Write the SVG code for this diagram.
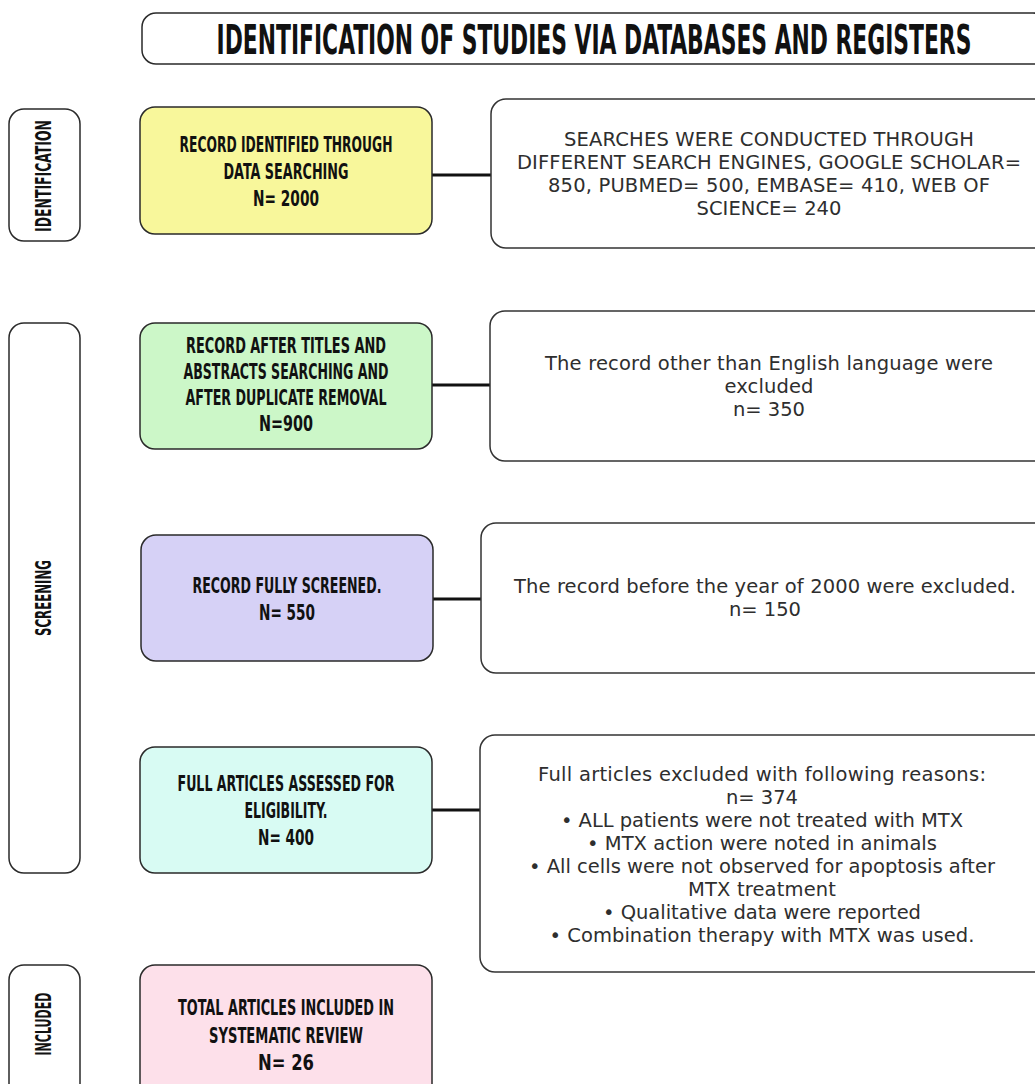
<svg xmlns="http://www.w3.org/2000/svg" width="1035" height="1084" viewBox="0 0 1035 1084">
<style>
.box{stroke:#2a2a2a;stroke-width:1.5}
.side{fill:#fff;stroke:#2a2a2a;stroke-width:1.5}
.rbox{fill:#fff;stroke:#333;stroke-width:1.5}
.hand{font-family:"DejaVu Sans Condensed","DejaVu Sans",sans-serif;font-weight:bold;fill:#111;text-anchor:middle}
.nt{font-size:22px}
.rt{font-family:"DejaVu Sans",sans-serif;font-size:19.5px;fill:#2e2e2e;text-anchor:middle}
.conn{stroke:#111;stroke-width:3}
</style>
<rect width="1035" height="1084" fill="#fff"/>
<g id="title">
<rect x="142" y="13" width="905" height="51" rx="14" class="side"/>
<text transform="translate(594 54) scale(0.6 1)" class="hand" font-size="40" textLength="1258" lengthAdjust="spacingAndGlyphs">IDENTIFICATION OF STUDIES VIA DATABASES AND REGISTERS</text>
</g>
<g id="stage-identification">
<rect x="9" y="109" width="71" height="132" rx="15" class="side"/>
<text transform="translate(51 176) rotate(-90)" class="hand" font-size="22" textLength="112" lengthAdjust="spacingAndGlyphs">IDENTIFICATION</text>
</g>
<g id="stage-screening">
<rect x="9" y="323" width="71" height="550" rx="15" class="side"/>
<text transform="translate(51 598) rotate(-90)" class="hand" font-size="22" textLength="76" lengthAdjust="spacingAndGlyphs">SCREENING</text>
</g>
<g id="stage-included">
<rect x="9" y="965" width="71" height="140" rx="15" class="side"/>
<text transform="translate(51 1024) rotate(-90)" class="hand" font-size="22" textLength="63" lengthAdjust="spacingAndGlyphs">INCLUDED</text>
</g>
<g id="connectors">
<line x1="432" y1="175" x2="491" y2="175" class="conn"/>
<line x1="432" y1="385" x2="490" y2="385" class="conn"/>
<line x1="433" y1="599" x2="481" y2="599" class="conn"/>
<line x1="432" y1="810" x2="480" y2="810" class="conn"/>
</g>
<g id="node-identified">
<rect x="140" y="107" width="292" height="127" rx="15" class="box" fill="#f8f79b"/>
<text class="hand nt" x="286" y="152" textLength="213" lengthAdjust="spacingAndGlyphs">RECORD IDENTIFIED THROUGH</text>
<text class="hand nt" x="286" y="179" textLength="125" lengthAdjust="spacingAndGlyphs">DATA SEARCHING</text>
<text class="hand nt" x="286" y="206" textLength="66" lengthAdjust="spacingAndGlyphs">N= 2000</text>
</g>
<g id="node-after-titles">
<rect x="140" y="323" width="292" height="126" rx="15" class="box" fill="#ccf7c8"/>
<text class="hand nt" x="286" y="353" textLength="200" lengthAdjust="spacingAndGlyphs">RECORD AFTER TITLES AND</text>
<text class="hand nt" x="286" y="379" textLength="205" lengthAdjust="spacingAndGlyphs">ABSTRACTS SEARCHING AND</text>
<text class="hand nt" x="286" y="405" textLength="201" lengthAdjust="spacingAndGlyphs">AFTER DUPLICATE REMOVAL</text>
<text class="hand nt" x="286" y="431" textLength="54" lengthAdjust="spacingAndGlyphs">N=900</text>
</g>
<g id="node-screened">
<rect x="141" y="535" width="292" height="126" rx="15" class="box" fill="#d6d1f6"/>
<text class="hand nt" x="287" y="593" textLength="189" lengthAdjust="spacingAndGlyphs">RECORD FULLY SCREENED.</text>
<text class="hand nt" x="287" y="620" textLength="56" lengthAdjust="spacingAndGlyphs">N= 550</text>
</g>
<g id="node-full-articles">
<rect x="140" y="747" width="292" height="126" rx="15" class="box" fill="#d8fbf3"/>
<text class="hand nt" x="286" y="791" textLength="217" lengthAdjust="spacingAndGlyphs">FULL ARTICLES ASSESSED FOR</text>
<text class="hand nt" x="286" y="818" textLength="83" lengthAdjust="spacingAndGlyphs">ELIGIBILITY.</text>
<text class="hand nt" x="286" y="845" textLength="56" lengthAdjust="spacingAndGlyphs">N= 400</text>
</g>
<g id="node-included">
<rect x="140" y="965" width="292" height="140" rx="15" class="box" fill="#fde0ea"/>
<text class="hand nt" x="286" y="1015" textLength="216" lengthAdjust="spacingAndGlyphs">TOTAL ARTICLES INCLUDED IN</text>
<text class="hand nt" x="286" y="1043" textLength="154" lengthAdjust="spacingAndGlyphs">SYSTEMATIC REVIEW</text>
<text class="hand nt" x="286" y="1070" textLength="56" lengthAdjust="spacingAndGlyphs">N= 26</text>
</g>
<g id="note-searches">
<rect x="491" y="99" width="560" height="149" rx="15" class="rbox"/>
<text class="rt" x="769" y="146" textLength="410">SEARCHES WERE CONDUCTED THROUGH</text>
<text class="rt" x="769" y="169" textLength="504">DIFFERENT SEARCH ENGINES, GOOGLE SCHOLAR=</text>
<text class="rt" x="769" y="192" textLength="442">850, PUBMED= 500, EMBASE= 410, WEB OF</text>
<text class="rt" x="769" y="215" textLength="145">SCIENCE= 240</text>
</g>
<g id="note-language">
<rect x="490" y="311" width="560" height="150" rx="15" class="rbox"/>
<text class="rt" x="769" y="370" textLength="448">The record other than English language were</text>
<text class="rt" x="769" y="393" textLength="89">excluded</text>
<text class="rt" x="769" y="416" textLength="72">n= 350</text>
</g>
<g id="note-year">
<rect x="481" y="523" width="570" height="150" rx="15" class="rbox"/>
<text class="rt" x="765" y="593" textLength="502">The record before the year of 2000 were excluded.</text>
<text class="rt" x="765" y="616" textLength="72">n= 150</text>
</g>
<g id="note-reasons">
<rect x="480" y="735" width="570" height="237" rx="15" class="rbox"/>
<text class="rt" x="762" y="781" textLength="448">Full articles excluded with following reasons:</text>
<text class="rt" x="762" y="804" textLength="72">n= 374</text>
<text class="rt" x="762" y="827" textLength="402">• ALL patients were not treated with MTX</text>
<text class="rt" x="762" y="850" textLength="350">• MTX action were noted in animals</text>
<text class="rt" x="762" y="873" textLength="466">• All cells were not observed for apoptosis after</text>
<text class="rt" x="762" y="896" textLength="148">MTX treatment</text>
<text class="rt" x="762" y="919" textLength="318">• Qualitative data were reported</text>
<text class="rt" x="762" y="942" textLength="425">• Combination therapy with MTX was used.</text>
</g>
</svg>
